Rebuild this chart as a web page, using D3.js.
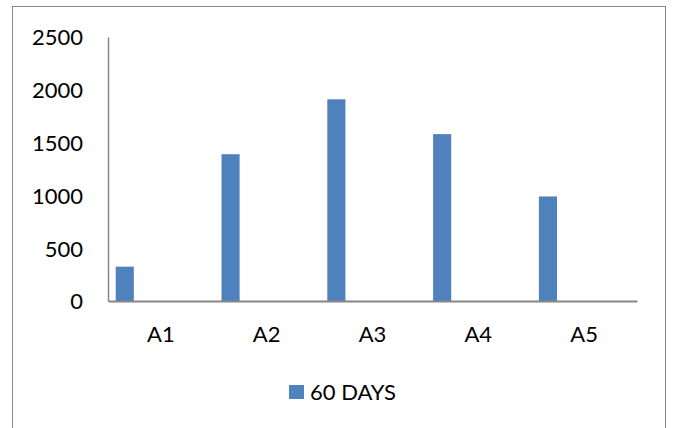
<!DOCTYPE html>
<html>
<head>
<meta charset="utf-8">
<script src="https://cdn.jsdelivr.net/npm/d3@7/dist/d3.min.js"></script>
<style>
  html, body { margin: 0; padding: 0; background: #fff; }
  svg { display: block; }
  text { font-family: Lato, "Open Sans", sans-serif; fill: #000; }
</style>
</head>
<body>
<script>
// Chart data
const categories = ["A1", "A2", "A3", "A4", "A5"];
const seriesName = "60 DAYS";
const values = [325, 1390, 1910, 1580, 990];
const yTicks = [0, 500, 1000, 1500, 2000, 2500];

const W = 673, H = 428;
const plot = { left: 108, right: 637, top: 37, bottom: 301 };
const barColor = "#4F81BD";
const axisColor = "#868686";

const svg = d3.select("body").append("svg")
  .attr("width", W).attr("height", H);

// outer chart frame
svg.append("rect")
  .attr("x", 12.5).attr("y", 6.5)
  .attr("width", 653).attr("height", 440)
  .attr("fill", "none").attr("stroke", "#888").attr("stroke-width", 1);

const x = d3.scaleBand().domain(categories)
  .range([plot.left, plot.right]).padding(0);
const y = d3.scaleLinear().domain([0, 2500])
  .range([plot.bottom, plot.top]);

// bar occupies the first slot of each category
const barOffset = x.bandwidth() * 0.073;
const barWidth = x.bandwidth() * 0.171;

svg.append("g").selectAll("rect")
  .data(values)
  .join("rect")
  .attr("x", (d, i) => x(categories[i]) + barOffset)
  .attr("y", d => y(d))
  .attr("width", barWidth)
  .attr("height", d => y(0) - y(d))
  .attr("fill", barColor);

// y axis
const yAxis = svg.append("g")
  .attr("transform", `translate(${plot.left},0)`)
  .call(d3.axisLeft(y).tickValues(yTicks).tickSize(0).tickPadding(25)
        .tickFormat(d3.format("d")));
yAxis.select(".domain").attr("stroke", axisColor).attr("stroke-width", 1.5);
yAxis.selectAll("text")
  .style("font-size", "22px")
  .attr("dy", "0.36em");

// x axis
const xAxis = svg.append("g")
  .attr("transform", `translate(0,${plot.bottom})`)
  .call(d3.axisBottom(x).tickSize(0).tickPadding(25));
xAxis.select(".domain").attr("stroke", axisColor).attr("stroke-width", 2);
xAxis.selectAll("text").style("font-size", "22px");

// legend
const legend = svg.append("g");
legend.append("rect")
  .attr("x", 289).attr("y", 385)
  .attr("width", 15).attr("height", 14)
  .attr("fill", barColor);
legend.append("text")
  .attr("x", 310).attr("y", 399.5)
  .style("font-size", "22px")
  .text(seriesName);
</script>
</body>
</html>
